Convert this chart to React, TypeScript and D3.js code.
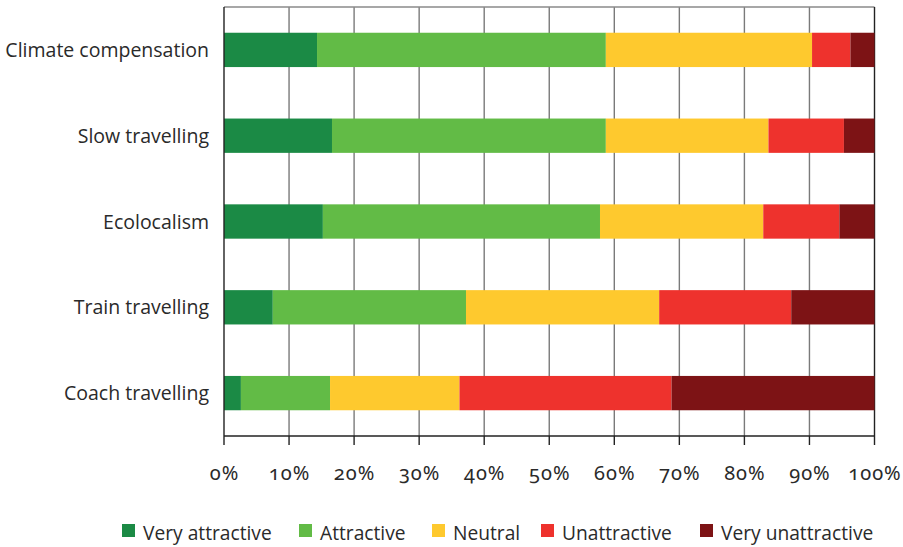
import React from "react";
import * as d3 from "d3";

const categories = [
  "Climate compensation",
  "Slow travelling",
  "Ecolocalism",
  "Train travelling",
  "Coach travelling",
];
const seriesNames = [
  "Very attractive",
  "Attractive",
  "Neutral",
  "Unattractive",
  "Very unattractive",
];
const seriesColors = ["#1b8a45", "#62bb46", "#fec92e", "#ee322d", "#7d1315"];
const veryAttractive = [14.3, 16.6, 15.2, 7.5, 2.6];
const attractive = [44.4, 42.1, 42.6, 29.7, 13.7];
const neutral = [31.7, 25.0, 25.1, 29.7, 19.9];
const unattractive = [5.9, 11.6, 11.7, 20.3, 32.6];
const veryUnattractive = [3.7, 4.7, 5.4, 12.8, 31.2];
const tickValues = [0, 10, 20, 30, 40, 50, 60, 70, 80, 90, 100];

const W = 903;
const H = 547;
const left = 224;
const right = 874.5;
const top = 7;
const bottom = 436;

export default function App() {
  const seriesValues = [veryAttractive, attractive, neutral, unattractive, veryUnattractive];
  const rows = categories.map((c, i) => {
    const r: Record<string, any> = { category: c };
    seriesNames.forEach((s, k) => (r[s] = seriesValues[k][i]));
    return r;
  });
  const stacked = d3.stack<any>().keys(seriesNames)(rows);

  const x = d3.scaleLinear().domain([0, 100]).range([left, right]);
  const y = d3
    .scaleBand<string>()
    .domain(categories)
    .range([top, bottom])
    .paddingInner(0.6)
    .paddingOuter(0.3);

  const font = "'Open Sans', 'Noto Sans', sans-serif";

  return (
    <svg
      width={W}
      height={H}
      style={{ position: "absolute", left: 0, top: 0, background: "#fff" }}
    >
      {/* vertical gridlines */}
      {tickValues.slice(1, -1).map((t) => (
        <line key={t} x1={x(t)} x2={x(t)} y1={top} y2={bottom} stroke="#7a7a7a" strokeWidth={1.4} />
      ))}
      <line x1={left} x2={right} y1={top} y2={top} stroke="#8a8a8a" strokeWidth={1.4} />
      <line x1={x(100)} x2={x(100)} y1={top} y2={bottom} stroke="#222" strokeWidth={1.4} />

      {/* stacked bars */}
      {stacked.map((layer, k) => (
        <g key={layer.key} fill={seriesColors[k]}>
          {layer.map((d, i) => (
            <rect
              key={i}
              x={x(d[0])}
              width={x(d[1]) - x(d[0])}
              y={y(categories[i])}
              height={y.bandwidth()}
            />
          ))}
        </g>
      ))}

      {/* axes */}
      <line x1={left} x2={left} y1={top} y2={bottom} stroke="#222" strokeWidth={1.4} />
      <line x1={left} x2={right} y1={bottom} y2={bottom} stroke="#222" strokeWidth={1.4} />
      {tickValues.map((t) => (
        <g key={t}>
          <line x1={x(t)} x2={x(t)} y1={bottom} y2={bottom + 9} stroke="#222" strokeWidth={1.4} />
          <text
            x={x(t) + 0.5}
            y={480}
            textAnchor="middle"
            fontFamily="'Noto Sans', sans-serif"
            fontSize={20}
            letterSpacing={1}
            fill="#2a2a2a"
            style={{ fontVariantNumeric: "oldstyle-nums" }}
          >
            {t}%
          </text>
        </g>
      ))}

      {/* category labels */}
      {categories.map((c) => (
        <text
          key={c}
          x={209}
          y={(y(c) as number) + y.bandwidth() / 2 + 7}
          textAnchor="end"
          fontFamily={font}
          fontSize={19.5}
          fill="#2a2a2a"
        >
          {c}
        </text>
      ))}

      {/* legend */}
      {(() => {
        const xs = [122, 299, 432, 541, 700];
        return seriesNames.map((s, k) => (
          <g key={s}>
            <rect x={xs[k]} y={524} width={13} height={13} fill={seriesColors[k]} />
            <text x={xs[k] + 21} y={540} fontFamily={font} fontSize={19.2} fill="#2a2a2a">
              {s}
            </text>
          </g>
        ));
      })()}
    </svg>
  );
}
